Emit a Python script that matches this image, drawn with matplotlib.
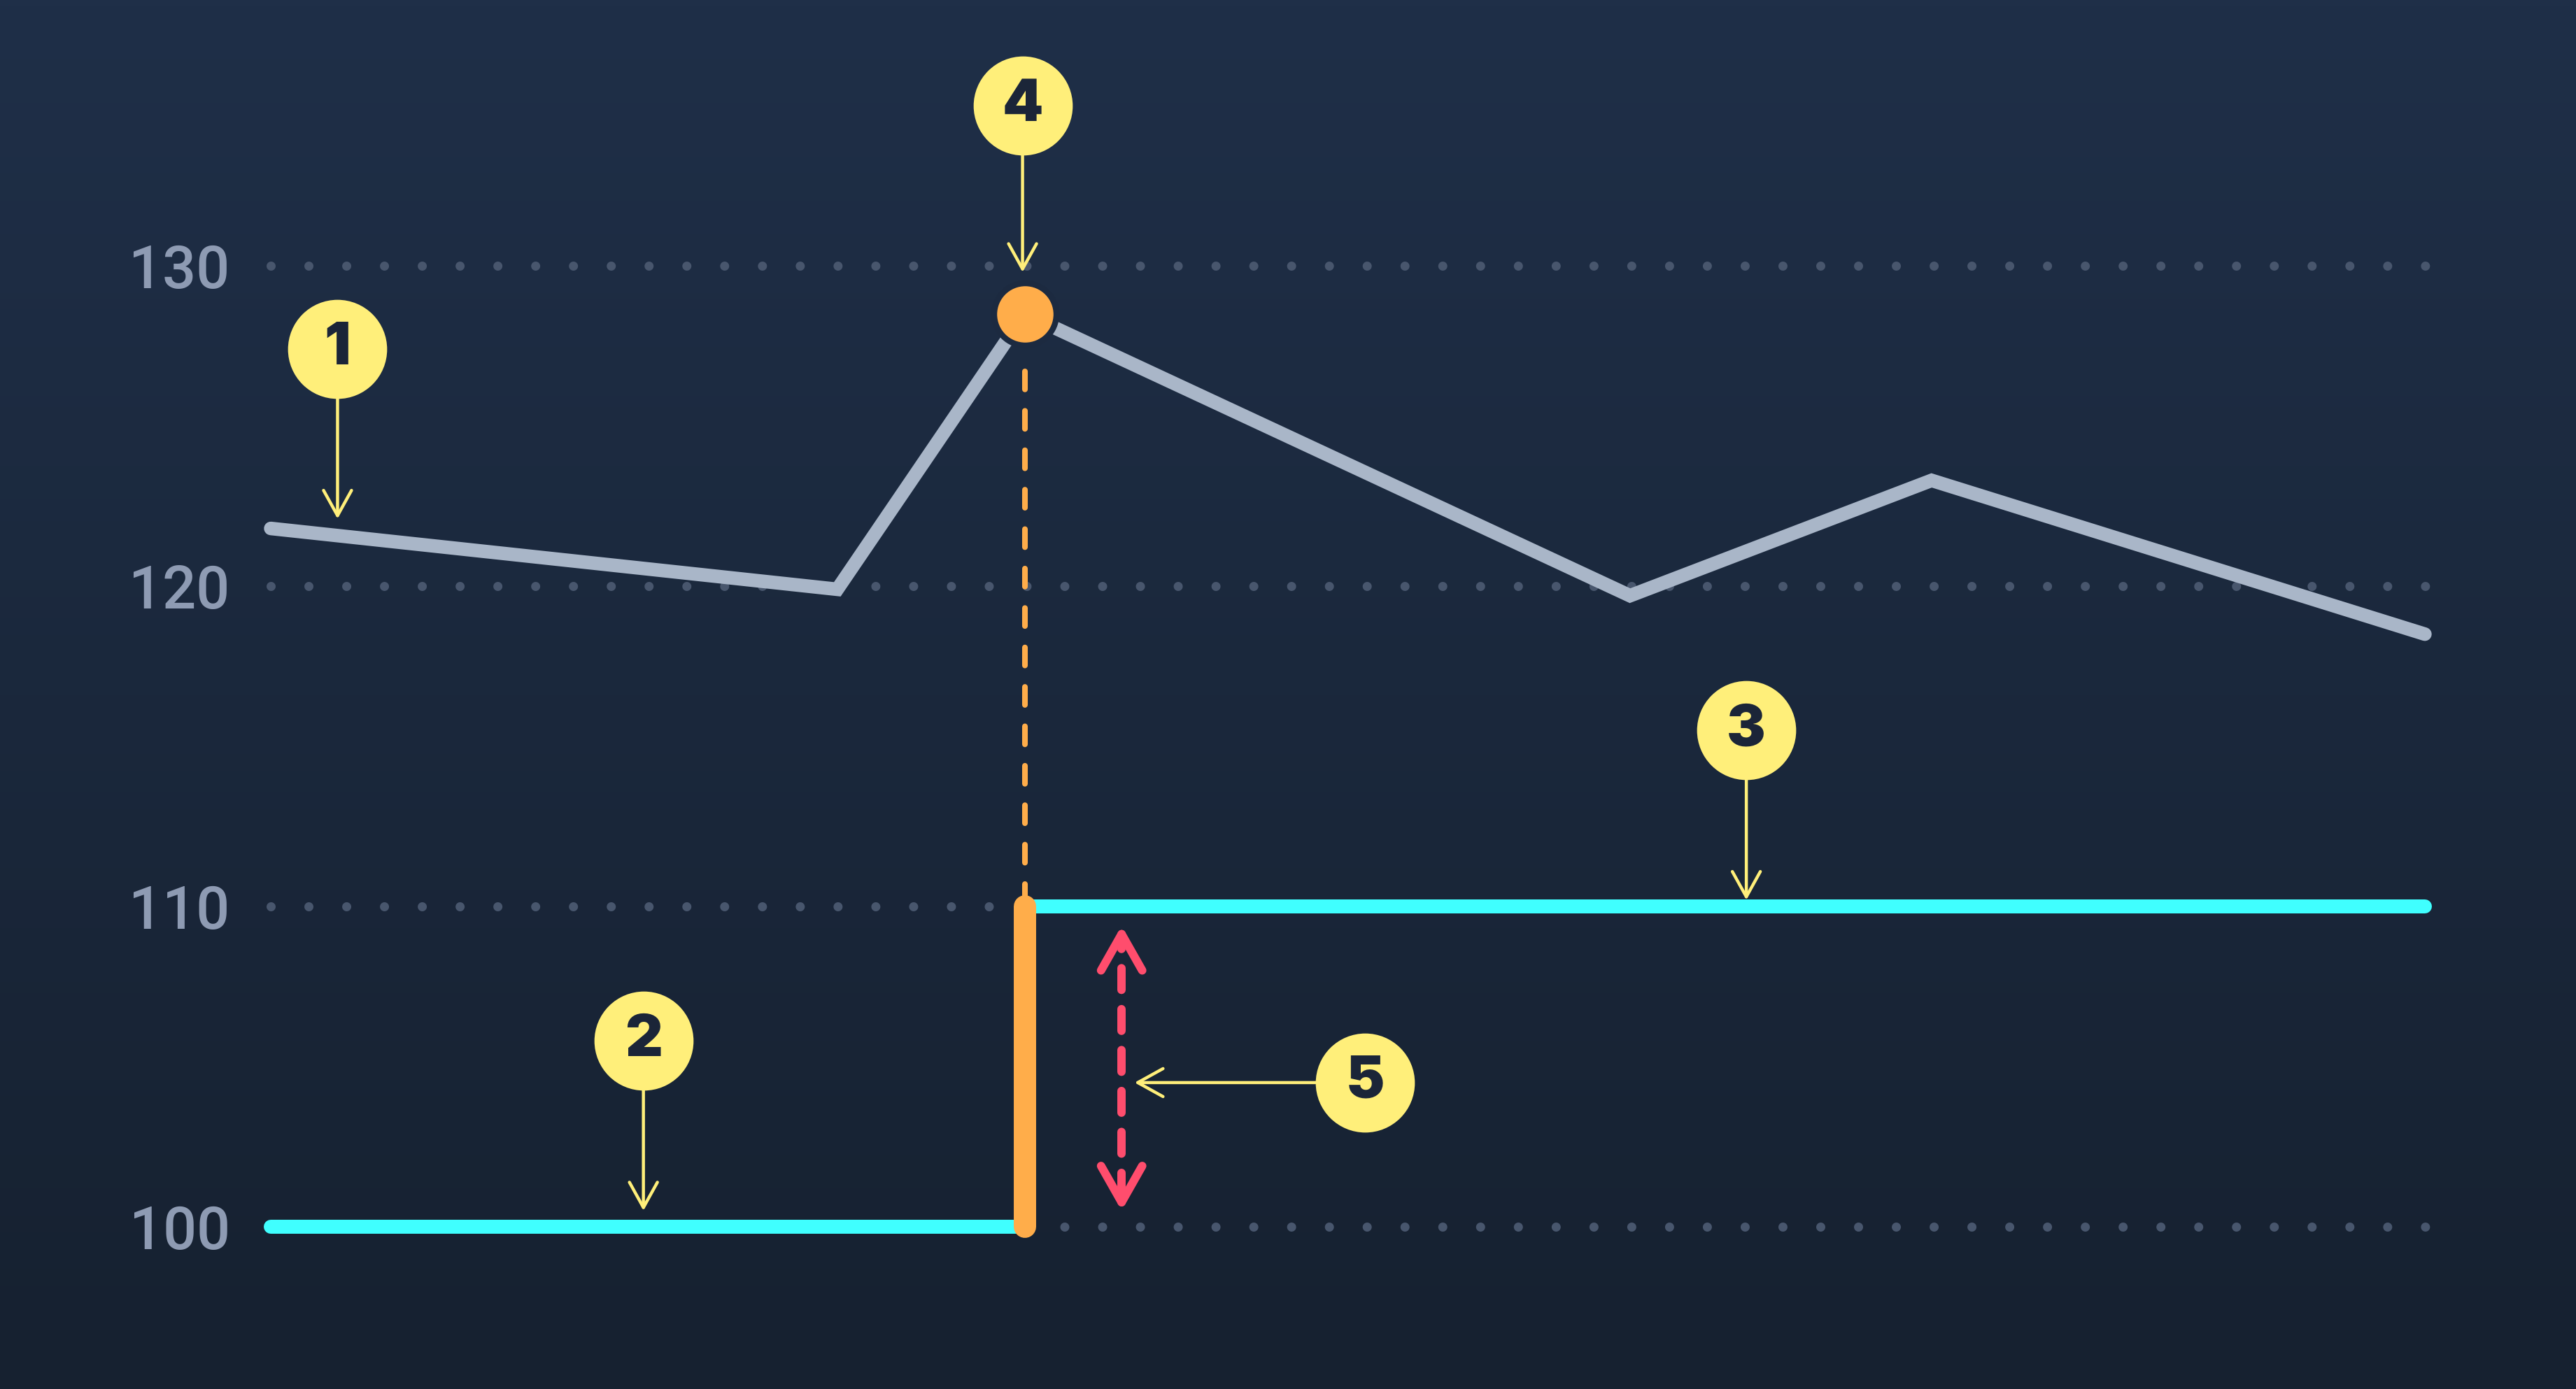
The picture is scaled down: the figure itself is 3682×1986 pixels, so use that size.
import numpy as np
import matplotlib
matplotlib.use('Agg')
import matplotlib.pyplot as plt
from matplotlib.patches import ArrowStyle

# data
price_x = [0, 26.3, 35, 63.1, 77.1, 100]
price_y = [121.8, 119.9, 128.5, 119.7, 123.3, 118.5]
step_x = 35
level_before = 100
level_after = 110
gap_x = 39.5
gap_range = [100.5, 109.4]
y_ticks = [100, 110, 120, 130]

ann_labels = ['1', '2', '3', '4', '5']
ann_x = [3.1, 17.3, 68.5, 34.9, 50.8]
ann_y = [127.4, 105.8, 115.5, 135.0, 104.5]
tip_x = [3.1, 17.3, 68.5, 34.9, 40.1]
tip_y = [122.1, 100.5, 110.2, 129.8, 104.5]

# colours
BG_TOP = '#1f2f48'
BG_BOT = '#162130'
GRID = '#48566d'
LABEL = '#8e9bb3'
GRAY = '#a9b6c8'
CYAN = '#40ffff'
ORANGE = '#ffad4a'
RED = '#ff4d6d'
YELLOW = '#ffef7a'
NAVY = '#1b2538'

fig = plt.figure(figsize=(18.41, 9.93), dpi=200)

# background gradient
bg = fig.add_axes([0, 0, 1, 1], zorder=-10)
grad = np.linspace(0, 1, 256).reshape(-1, 1)
cmap = matplotlib.colors.LinearSegmentedColormap.from_list('bg', [BG_TOP, BG_BOT])
bg.imshow(grad, aspect='auto', cmap=cmap, extent=[0, 1, 0, 1])
bg.axis('off')

ax = fig.add_axes([387 / 3682, 1 - 1754 / 1986, (3466 - 387) / 3682, (1754 - 380) / 1986])
ax.set_xlim(0, 100)
ax.set_ylim(100, 130)
ax.patch.set_alpha(0)
for s in ax.spines.values():
    s.set_visible(False)
ax.set_xticks([])
ax.set_yticks(y_ticks)
ax.set_yticklabels([str(v) for v in y_ticks], fontsize=30.5, fontweight='medium',
                   color=LABEL, family=['Roboto', 'DejaVu Sans'])
ax.tick_params(axis='y', length=0, pad=21)

# dotted grid (57 gaps across the plot width)
for v in y_ticks:
    ax.plot([0, 100.1], [v, v], color=GRID, lw=4.7, linestyle=(0, (0.001, 4.137)),
            dash_capstyle='round', clip_on=False, zorder=1)

# price line
ax.plot(price_x, price_y, color=GRAY, lw=7, solid_capstyle='round',
        solid_joinstyle='miter', clip_on=False, zorder=3)

# dashed guide from peak down to new level
ax.plot([step_x, step_x], [126.7, level_after], color=ORANGE, lw=2.9,
        linestyle=(0, (3.2, 3.8)), dash_capstyle='round', clip_on=False, zorder=2)

# step levels
ax.plot([0, step_x], [level_before, level_before], color=CYAN, lw=7.2,
        solid_capstyle='round', clip_on=False, zorder=4)
ax.plot([step_x, 100], [level_after, level_after], color=CYAN, lw=7.2,
        solid_capstyle='round', clip_on=False, zorder=4)
ax.plot([step_x, step_x], [level_before, level_after], color=ORANGE, lw=11.5,
        solid_capstyle='round', clip_on=False, zorder=5)

# peak marker
peak_i = int(np.argmax(price_y))
ax.plot(price_x[peak_i], price_y[peak_i], 'o', ms=32, color=ORANGE,
        mec='#1c2a40', mew=3, clip_on=False, zorder=6)

# gap double arrow
ax.plot([gap_x, gap_x], [gap_range[0] + 0.5, gap_range[1] - 0.5], color=RED, lw=4.3,
        linestyle=(0, (2.6, 2.3)), dash_capstyle='round', clip_on=False, zorder=4)
head = ArrowStyle('->', head_length=18.7, head_width=10.6)
for tip, tail in [(gap_range[1], gap_range[1] - 0.6), (gap_range[0], gap_range[0] + 0.6)]:
    ax.annotate('', xy=(gap_x, tip), xytext=(gap_x, tail),
                arrowprops=dict(arrowstyle=head, mutation_scale=1, color=RED, lw=4.3,
                                capstyle='round', joinstyle='round', shrinkA=0, shrinkB=0),
                annotation_clip=False, zorder=4)

# numbered callouts
yhead = ArrowStyle('->', head_length=13, head_width=7.2)
for lab, cx, cy, tx, ty in zip(ann_labels, ann_x, ann_y, tip_x, tip_y):
    ax.annotate('', xy=(tx, ty), xytext=(cx, cy),
                arrowprops=dict(arrowstyle=yhead, mutation_scale=1, color=YELLOW, lw=1.6,
                                shrinkA=25, shrinkB=0, capstyle='round', joinstyle='round'),
                annotation_clip=False, zorder=7)
    ax.plot(cx, cy, 'o', ms=51, color=YELLOW, mec='none', clip_on=False, zorder=8)
    ax.text(cx, cy, lab, ha='center', va='center', fontsize=30, fontweight='black',
            color=NAVY, family=['Inter', 'DejaVu Sans'], zorder=9)

fig.savefig('out.png', dpi=200)
